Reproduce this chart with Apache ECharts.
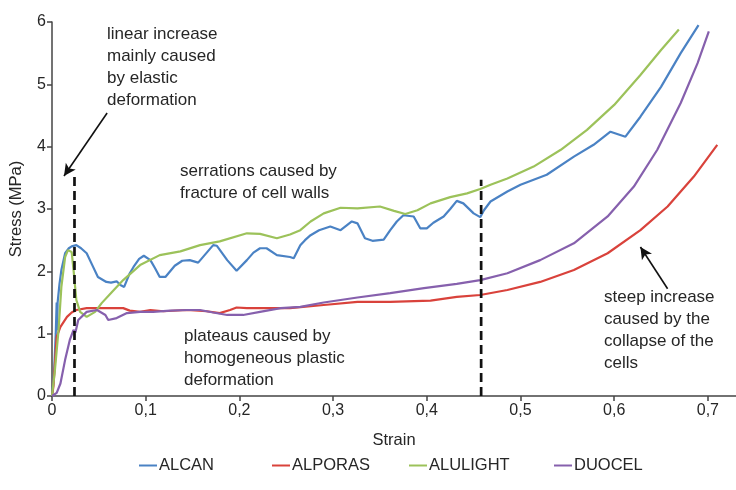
<!DOCTYPE html>
<html>
<head>
<meta charset="utf-8">
<script src="https://cdn.jsdelivr.net/npm/echarts@6/dist/echarts.min.js"></script>
<style>html,body{margin:0;padding:0;background:#fff}#c{width:736px;height:490px}</style>
</head>
<body>
<div id="c"></div>
<script>
const seriesNames = ['ALCAN', 'ALPORAS', 'ALULIGHT', 'DUOCEL'];
const seriesColors = ['#4a82c4', '#d9423b', '#9cc25a', '#8660ad'];

const alcan = [[0,0],[0.002,0.3],[0.004,1.0],[0.005,1.5],[0.0055,1.05],[0.006,1.5],[0.008,1.8],[0.010,2.02],[0.014,2.29],[0.018,2.37],[0.021,2.40],[0.026,2.42],[0.031,2.37],[0.037,2.29],[0.043,2.1],[0.049,1.91],[0.058,1.83],[0.063,1.82],[0.069,1.84],[0.073,1.78],[0.077,1.75],[0.083,1.97],[0.087,2.07],[0.093,2.2],[0.098,2.25],[0.105,2.18],[0.110,2.05],[0.115,1.91],[0.121,1.91],[0.131,2.09],[0.139,2.17],[0.147,2.18],[0.156,2.14],[0.164,2.28],[0.172,2.42],[0.176,2.41],[0.187,2.18],[0.197,2.01],[0.208,2.18],[0.215,2.3],[0.222,2.37],[0.229,2.37],[0.240,2.26],[0.254,2.23],[0.258,2.21],[0.265,2.42],[0.270,2.5],[0.276,2.58],[0.285,2.66],[0.297,2.72],[0.308,2.66],[0.320,2.80],[0.326,2.77],[0.334,2.53],[0.342,2.49],[0.354,2.51],[0.361,2.66],[0.368,2.80],[0.375,2.90],[0.386,2.88],[0.393,2.69],[0.400,2.69],[0.407,2.78],[0.418,2.88],[0.425,3.0],[0.432,3.13],[0.439,3.09],[0.450,2.93],[0.457,2.87],[0.461,2.98],[0.468,3.12],[0.486,3.28],[0.500,3.39],[0.528,3.55],[0.557,3.84],[0.578,4.03],[0.596,4.24],[0.612,4.16],[0.628,4.48],[0.650,4.96],[0.671,5.50],[0.690,5.95]];

const alporas = [[0,0],[0.0015,0.15],[0.003,0.5],[0.005,0.95],[0.009,1.11],[0.016,1.27],[0.021,1.34],[0.026,1.38],[0.037,1.41],[0.058,1.41],[0.076,1.41],[0.083,1.37],[0.094,1.35],[0.105,1.38],[0.119,1.36],[0.144,1.38],[0.165,1.36],[0.179,1.33],[0.190,1.38],[0.197,1.42],[0.208,1.41],[0.233,1.41],[0.254,1.41],[0.290,1.46],[0.326,1.51],[0.361,1.51],[0.404,1.53],[0.432,1.59],[0.457,1.62],[0.486,1.70],[0.521,1.83],[0.557,2.02],[0.593,2.29],[0.628,2.66],[0.657,3.04],[0.685,3.52],[0.710,4.03]];

const alulight = [[0,0],[0.003,0.4],[0.007,1.06],[0.010,1.75],[0.014,2.23],[0.017,2.34],[0.021,2.31],[0.023,2.02],[0.026,1.54],[0.030,1.35],[0.037,1.27],[0.046,1.35],[0.053,1.49],[0.064,1.67],[0.076,1.86],[0.094,2.10],[0.115,2.26],[0.137,2.32],[0.158,2.42],[0.179,2.48],[0.208,2.61],[0.222,2.60],[0.240,2.53],[0.254,2.59],[0.265,2.66],[0.276,2.80],[0.290,2.93],[0.308,3.02],[0.326,3.01],[0.350,3.04],[0.365,2.97],[0.377,2.92],[0.390,2.98],[0.404,3.09],[0.425,3.19],[0.443,3.25],[0.457,3.32],[0.468,3.39],[0.486,3.49],[0.514,3.68],[0.543,3.95],[0.571,4.27],[0.600,4.67],[0.628,5.15],[0.650,5.55],[0.669,5.88]];

const duocel = [[0,0],[0.005,0.05],[0.009,0.2],[0.014,0.58],[0.019,0.90],[0.023,1.06],[0.025,1.02],[0.028,1.22],[0.037,1.35],[0.048,1.38],[0.057,1.30],[0.060,1.22],[0.069,1.25],[0.080,1.33],[0.094,1.35],[0.108,1.35],[0.126,1.37],[0.144,1.38],[0.158,1.38],[0.172,1.34],[0.187,1.30],[0.204,1.30],[0.222,1.35],[0.244,1.41],[0.265,1.43],[0.290,1.50],[0.326,1.58],[0.361,1.65],[0.397,1.73],[0.432,1.80],[0.457,1.86],[0.486,1.97],[0.521,2.18],[0.557,2.45],[0.593,2.88],[0.621,3.36],[0.646,3.95],[0.671,4.70],[0.689,5.34],[0.701,5.85]];

const dividerStrain = [0.024, 0.458];
const dividerTop = [3.52, 3.47];
const arrowFrom = [[0.0588, 4.54], [0.657, 1.72]];
const arrowTo = [[0.0128, 3.53], [0.628, 2.39]];

const xTicks = ['0', '0,1', '0,2', '0,3', '0,4', '0,5', '0,6', '0,7'];
const yTicks = ['0', '1', '2', '3', '4', '5', '6'];

const notes = [
  'linear increase\nmainly caused\nby elastic\ndeformation',
  'serrations caused by\nfracture of cell walls',
  'plateaus caused by\nhomogeneous plastic\ndeformation',
  'steep increase\ncaused by the\ncollapse of the\ncells'
];

const FONT = '"Liberation Sans", Arial, sans-serif';
const chart = echarts.init(document.getElementById('c'), null, {renderer: 'canvas'});
const allData = [alcan, alporas, alulight, duocel];

const series = seriesNames.map((n, i) => ({
  name: n, type: 'line', data: allData[i], showSymbol: false, symbol: 'none',
  lineStyle: {color: seriesColors[i], width: 2.2}, itemStyle: {color: seriesColors[i]},
  z: 3
}));
dividerStrain.forEach((x, i) => {
  series.push({
    type: 'line', data: [[x, 0], [x, dividerTop[i]]], symbol: 'none', silent: true,
    lineStyle: {color: '#111', width: 2.7, type: [9, 5]}, z: 4
  });
});
series.push({
  type: 'line', data: [], silent: true,
  markLine: {
    silent: true, symbol: ['none', 'arrow'], symbolSize: [9, 12],
    label: {show: false},
    lineStyle: {color: '#111', width: 1.6, type: 'solid'},
    data: arrowFrom.map((f, i) => [{coord: f}, {coord: arrowTo[i]}])
  }
});

const legendLeft = [134, 267, 404, 549];
const legends = seriesNames.map((n, i) => ({
  data: [n], left: legendLeft[i], top: 452, itemWidth: 18, itemHeight: 2,
  icon: 'rect', itemGap: 0,
  textStyle: {fontFamily: FONT, fontSize: 16.5, color: '#262626', padding: [0, 0, 0, -3]}
}));

const noteStyle = {fill: '#262626', font: '17px ' + FONT, lineHeight: 22};
chart.setOption({
  animation: false,
  backgroundColor: '#fff',
  grid: {left: 52, right: 0, top: 22, bottom: 94, containLabel: false},
  legend: legends,
  xAxis: {
    type: 'value', min: 0, max: 0.73, interval: 0.1,
    name: 'Strain', nameLocation: 'middle', nameGap: 36,
    nameTextStyle: {fontFamily: FONT, fontSize: 16.5, color: '#262626'},
    axisLine: {show: true, lineStyle: {color: '#444', width: 1.5}},
    axisTick: {show: true, length: 5, lineStyle: {color: '#444', width: 1.5}},
    axisLabel: {fontFamily: FONT, fontSize: 16, color: '#262626', margin: 7, showMaxLabel: false,
      formatter: v => { const k = Math.round(v * 10); return (Math.abs(v * 10 - k) < 1e-6) ? xTicks[k] : ''; }},
    splitLine: {show: false}
  },
  yAxis: {
    type: 'value', min: 0, max: 6, interval: 1,
    name: 'Stress (MPa)', nameLocation: 'middle', nameGap: 27,
    nameTextStyle: {fontFamily: FONT, fontSize: 16.5, color: '#262626'},
    axisLine: {show: true, lineStyle: {color: '#444', width: 1.5}},
    axisTick: {show: true, length: 5, lineStyle: {color: '#444', width: 1.5}},
    axisLabel: {fontFamily: FONT, fontSize: 16, color: '#262626', margin: 6,
      formatter: v => yTicks[Math.round(v)]},
    splitLine: {show: false}
  },
  graphic: [
    {type: 'text', left: 107, top: 23, style: Object.assign({text: notes[0]}, noteStyle)},
    {type: 'text', left: 180, top: 160, style: Object.assign({text: notes[1]}, noteStyle)},
    {type: 'text', left: 184, top: 325, style: Object.assign({text: notes[2]}, noteStyle)},
    {type: 'text', left: 604, top: 286, style: Object.assign({text: notes[3]}, noteStyle)}
  ],
  series: series
});
</script>
</body>
</html>
